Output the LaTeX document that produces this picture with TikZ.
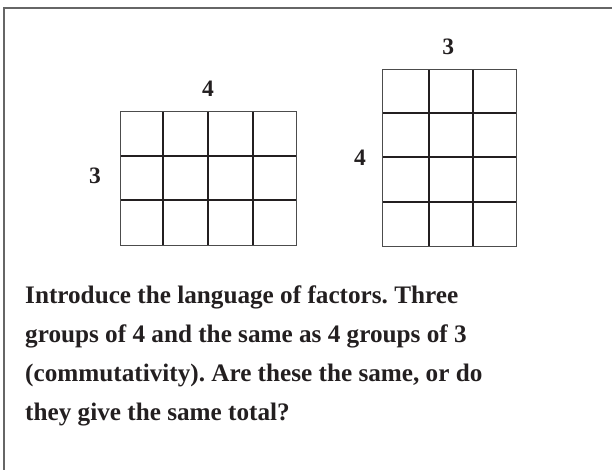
\documentclass[tikz,border=0pt]{standalone}
\usepackage{fontspec}
\setmainfont{Liberation Serif}
\usepackage{xcolor}
\usepackage{tikz}
\usetikzlibrary{positioning}
\definecolor{inkdark}{HTML}{231F20}

\begin{document}
\frenchspacing
\begin{tikzpicture}[
  x=1pt, y=-1pt,
  framerule/.style={draw=black!60, line width=1.2pt},
  gridouter/.style={draw=black!70, line width=1pt},
  gridinner/.style={draw=inkdark, line width=1.8pt},
  factor/.style={font=\fontsize{23.5}{24}\selectfont\bfseries, text=inkdark, inner sep=0pt},
  caption/.style={font=\fontsize{25.2}{39}\selectfont\bfseries, text=inkdark, align=left, inner sep=0pt}
]
\useasboundingbox (0,0) rectangle (612,470);
% page frame, only top and left edges show
\draw[framerule] (4,470) -- (4,8) -- (612,8);

% 3 by 4 array
\foreach \xx in {163,208,253} \draw[gridinner] (\xx,111.5) -- (\xx,245.5);
\foreach \yy in {156,200} \draw[gridinner] (120.5,\yy) -- (296.5,\yy);
\draw[gridouter] (120.5,111.5) rectangle (296.5,245.5);
\node[factor] (lefttop) at (208,88.5) {4};
\node[factor] (leftside) at (95,175.5) {3};

% 4 by 3 array
\foreach \xx in {429,473} \draw[gridinner] (\xx,69.5) -- (\xx,246.5);
\foreach \yy in {113,157,202} \draw[gridinner] (382.5,\yy) -- (516.5,\yy);
\draw[gridouter] (382.5,69.5) rectangle (516.5,246.5);
\node[factor] (righttop) at (448.3,46.5) {3};
\node[factor] (rightside) at (360,158) {4};

\node[caption, anchor=north west] (note) at (25,286) {Introduce the language of factors. Three\\
groups of 4 and the same as 4 groups of 3\\
(commutativity). Are these the same, or do\\
they give the same total?};
\end{tikzpicture}
\end{document}
